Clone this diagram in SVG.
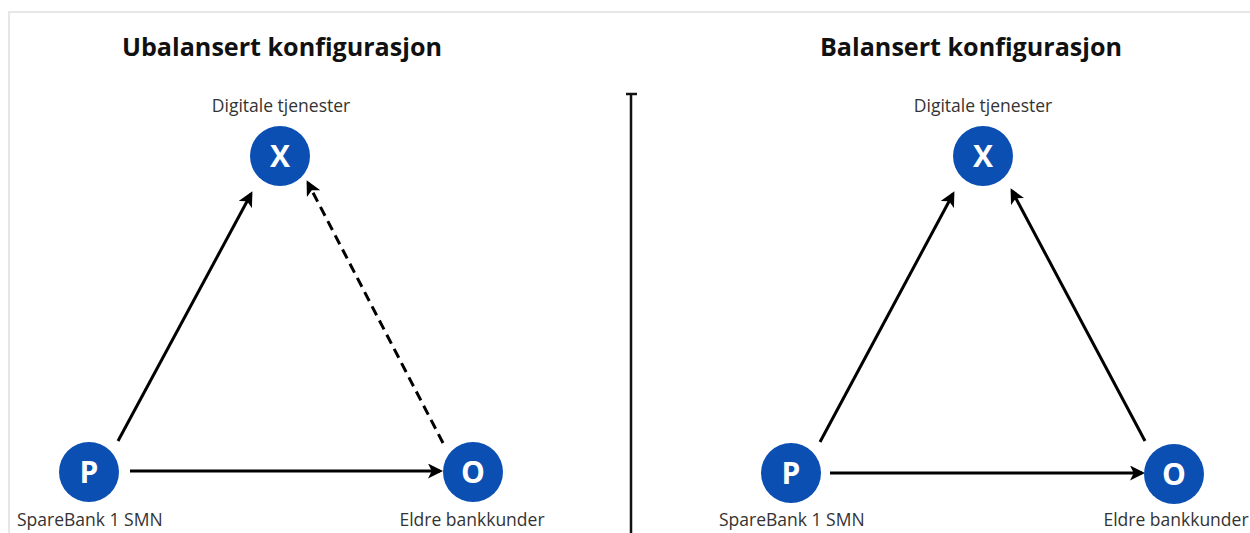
<svg xmlns="http://www.w3.org/2000/svg" width="1250" height="533" viewBox="0 0 1250 533">
  <style>
    .title { font-family: "Open Sans", "Liberation Sans", sans-serif; font-weight: 700; font-size: 25px; fill: #111; }
    .label { font-family: "Open Sans", "Noto Sans", sans-serif; font-size: 17.5px; fill: #333; }
    .node { fill: #0b4fb3; }
    .letter { font-family: "Open Sans", "Liberation Sans", sans-serif; font-weight: 700; font-size: 30px; fill: #fff; }
    .edge { stroke: #000; stroke-width: 3; fill: none; marker-end: url(#arrow); }
    .dashed { stroke-dasharray: 10 6; }
  </style>
  <defs>
    <marker id="arrow" viewBox="0 0 10 10" refX="8" refY="5" markerWidth="5" markerHeight="5" orient="auto" markerUnits="strokeWidth">
      <path d="M0,0 L10,5 L0,10 L2.5,5 Z" fill="#000"/>
    </marker>
  </defs>

  <rect width="1250" height="533" fill="#fff"/>
  <!-- frame -->
  <path d="M9,533 V12 H1250" fill="none" stroke="#e6e6e6" stroke-width="2"/>

  <!-- divider -->
  <g id="divider" stroke="#111" stroke-width="2.5">
    <line x1="631" y1="94" x2="631" y2="533"/>
    <line x1="626" y1="94" x2="637" y2="94"/>
  </g>

  <text class="title" x="282" y="56" text-anchor="middle" textLength="320" lengthAdjust="spacingAndGlyphs">Ubalansert konfigurasjon</text>
  <text class="title" x="971" y="56" text-anchor="middle" textLength="302" lengthAdjust="spacingAndGlyphs">Balansert konfigurasjon</text>

  <!-- connectors -->
  <g id="connectors">
    <line class="edge" x1="118" y1="441" x2="251" y2="194"/>
    <line class="edge" x1="130" y1="471" x2="440" y2="471"/>
    <line class="edge dashed" x1="443" y1="443" x2="308" y2="183"/>
    <line class="edge" x1="820" y1="442" x2="953" y2="194"/>
    <line class="edge" x1="830" y1="473" x2="1142" y2="473"/>
    <line class="edge" x1="1145" y1="441" x2="1012" y2="191"/>
  </g>

  <!-- left configuration -->
  <g id="left-x">
    <circle class="node" cx="280" cy="156" r="30"/>
    <text class="letter" x="280" y="167" text-anchor="middle">X</text>
    <text class="label" x="281" y="112" text-anchor="middle">Digitale tjenester</text>
  </g>
  <g id="left-p">
    <circle class="node" cx="89" cy="472" r="30"/>
    <text class="letter" x="89" y="483" text-anchor="middle">P</text>
    <text class="label" x="17" y="526">SpareBank 1 SMN</text>
  </g>
  <g id="left-o">
    <circle class="node" cx="473" cy="472" r="30"/>
    <text class="letter" x="473" y="483" text-anchor="middle">O</text>
    <text class="label" x="472" y="526" text-anchor="middle">Eldre bankkunder</text>
  </g>

  <!-- right configuration -->
  <g id="right-x">
    <circle class="node" cx="983" cy="156" r="30"/>
    <text class="letter" x="983" y="167" text-anchor="middle">X</text>
    <text class="label" x="983" y="112" text-anchor="middle">Digitale tjenester</text>
  </g>
  <g id="right-p">
    <circle class="node" cx="791" cy="473" r="30"/>
    <text class="letter" x="791" y="484" text-anchor="middle">P</text>
    <text class="label" x="719" y="526">SpareBank 1 SMN</text>
  </g>
  <g id="right-o">
    <circle class="node" cx="1174" cy="474" r="30"/>
    <text class="letter" x="1174" y="485" text-anchor="middle">O</text>
    <text class="label" x="1176" y="526" text-anchor="middle">Eldre bankkunder</text>
  </g>
</svg>
